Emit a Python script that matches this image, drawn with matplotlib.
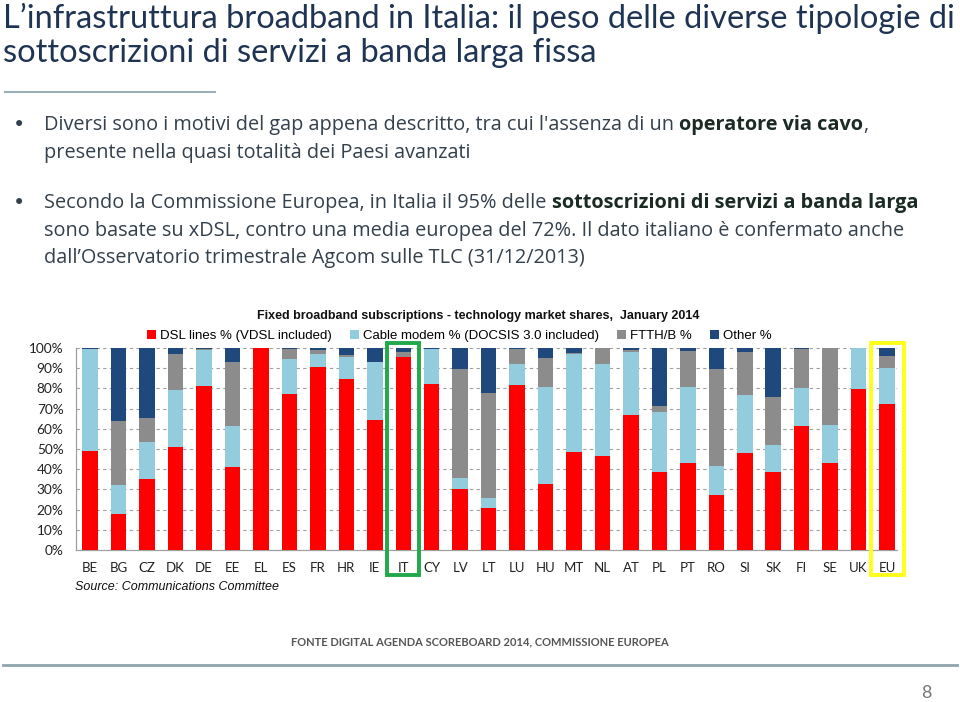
import matplotlib
matplotlib.use('Agg')
import matplotlib.pyplot as plt
from matplotlib.patches import Rectangle
from matplotlib.lines import Line2D
import numpy as np

# Data (percent of fixed broadband subscriptions)
countries = ['BE', 'BG', 'CZ', 'DK', 'DE', 'EE', 'EL', 'ES', 'FR', 'HR', 'IE', 'IT', 'CY', 'LV',
             'LT', 'LU', 'HU', 'MT', 'NL', 'AT', 'PL', 'PT', 'RO', 'SI', 'SK', 'FI', 'SE', 'UK', 'EU']
dsl = [49, 18, 35, 51, 81, 41, 100, 77, 90.5, 84.5, 64.5, 95.5, 82.3, 30,
       20.7, 81.8, 32.7, 48.4, 46.6, 67, 38.8, 43, 27.3, 48, 38.8, 61.2, 43.3, 79.7, 72.4]
cable = [50.5, 14, 18.5, 28, 18, 20.5, 0, 17.5, 6.5, 11, 28.5, 0, 17, 5.5,
         4.8, 10.4, 48, 48.8, 45.6, 31, 29.3, 37.7, 14.4, 28.6, 13.1, 19, 18.4, 20.3, 17.7]
ftth = [0, 32, 12, 18, 0.5, 31.5, 0, 5, 2, 1, 0.3, 2.3, 0, 54,
        52.2, 7.5, 14.3, 0.3, 7.8, 1, 3, 18, 47.9, 21.3, 23.8, 19.5, 38.3, 0, 6.1]
other = [0.5, 36, 34.5, 3, 0.5, 7, 0, 0.5, 1, 3.5, 6.7, 2.2, 0.7, 10.5,
         22.3, 0.3, 5, 2.5, 0, 1, 28.9, 1.3, 10.4, 2.1, 24.3, 0.3, 0, 0, 3.8]
series_names = ['DSL lines % (VDSL included)', 'Cable modem % (DOCSIS 3.0 included)',
                'FTTH/B %', 'Other %']
y_ticks = [0, 10, 20, 30, 40, 50, 60, 70, 80, 90, 100]

colors = ['#FF0000', '#93CDDD', '#8C8C8C', '#1F497D']
W, H = 960, 702


def fx(x):
    return x / W


def fy(y):
    return 1 - y / H


def fit_size(fig, runs, family, target, base=12):
    # font size at which a line (list of (text, bold)) gets the wanted pixel width
    renderer = fig.canvas.get_renderer()
    total = 0
    for txt, bold in runs:
        t = fig.text(0, 0, txt, fontsize=base, family=family, fontweight='bold' if bold else 'normal')
        total += t.get_window_extent(renderer=renderer).width
        t.remove()
    return base * target / total


def draw_runs(fig, x, y, runs, size, color_normal, color_bold, family):
    # draw a line of text made of normal / bold pieces, one after another
    renderer = fig.canvas.get_renderer()
    cur = x
    for txt, bold in runs:
        t = fig.text(fx(cur), fy(y), txt, fontsize=size, family=family,
                     fontweight='bold' if bold else 'normal',
                     color=color_bold if bold else color_normal, va='center', ha='left')
        bb = t.get_window_extent(renderer=renderer)
        cur += bb.width


fig = plt.figure(figsize=(9.6, 7.02), dpi=100)
fig.patch.set_facecolor('white')

title_font = ['Lato', 'DejaVu Sans']
body_font = ['Open Sans', 'DejaVu Sans']

# Slide title
title1 = "L\u2019infrastruttura broadband in Italia: il peso delle diverse tipologie di"
tsize = fit_size(fig, [(title1, False)], title_font, 950)
fig.text(fx(3), fy(18), title1, fontsize=tsize, family=title_font, color='#1F3352', va='center')
fig.text(fx(3), fy(53), "sottoscrizioni di servizi a banda larga fissa",
         fontsize=tsize, family=title_font, color='#1F3352', va='center')
fig.add_artist(Line2D([fx(5), fx(215)], [fy(92), fy(92)], color='#9AAFB8', lw=1.5))

# Bullets
txt_c = '#34404C'
bold_c = '#1B2B24'
line_a = [("Secondo la Commissione Europea, in Italia il 95% delle ", False),
          ("sottoscrizioni di servizi a banda larga", True)]
bsize = fit_size(fig, line_a, body_font, 873)
for by in (125, 203):
    fig.text(fx(19), fy(by), '\u2022', fontsize=15, color=txt_c, va='center', ha='center',
             family=['DejaVu Sans'])
draw_runs(fig, 44, 125, [("Diversi sono i motivi del gap appena descritto, tra cui l'assenza di un ", False),
                         ("operatore via cavo", True), (",", False)], bsize, txt_c, bold_c, body_font)
draw_runs(fig, 44, 153, [("presente nella quasi totalit\u00e0 dei Paesi avanzati", False)],
          bsize, txt_c, bold_c, body_font)
draw_runs(fig, 44, 203, line_a, bsize, txt_c, bold_c, body_font)
draw_runs(fig, 44, 231, [("sono basate su xDSL, contro una media europea del 72%. Il dato italiano \u00e8 confermato anche", False)],
          bsize, txt_c, bold_c, body_font)
draw_runs(fig, 44, 258, [("dall\u2019Osservatorio trimestrale Agcom sulle TLC (31/12/2013)", False)],
          bsize, txt_c, bold_c, body_font)

# Chart
ax = fig.add_axes([fx(76), fy(550), fx(897) - fx(76), (550 - 348) / H])
x = np.arange(len(countries))
bottom = np.zeros(len(countries))
for vals, c, name in zip([dsl, cable, ftth, other], colors, series_names):
    ax.bar(x, vals, bottom=bottom, width=0.545, color=c, label=name, zorder=3)
    bottom += np.array(vals)

ax.set_ylim(0, 100)
ax.set_xlim(-0.5, 28.35)
ax.set_yticks(y_ticks)
ax.set_yticklabels([f'{v}%' for v in y_ticks], fontsize=9.8, family=['Lato', 'DejaVu Sans'], color='#222222')
ax.set_xticks(x)
ax.set_xticklabels(countries, fontsize=9.5, family=['Lato', 'DejaVu Sans'], color='#222222')
ax.tick_params(axis='x', length=0, pad=9)
ax.tick_params(axis='y', length=0, pad=9)
for v in y_ticks[1:]:
    ax.axhline(v, color='#A0A0A0', lw=0.8, dashes=(3, 3), zorder=1)
for s in ['top', 'right']:
    ax.spines[s].set_visible(False)
for s in ['left', 'bottom']:
    ax.spines[s].set_color('#A0A0A0')
    ax.spines[s].set_linewidth(0.9)

ax.legend(ncol=4, loc='lower left', bbox_to_anchor=(fx(147), fy(342)), bbox_transform=fig.transFigure,
          frameon=False, prop={'family': 'Liberation Sans', 'size': 9.5}, handlelength=0.7,
          handleheight=0.7, handletextpad=0.3, columnspacing=1.35, borderpad=0, borderaxespad=0)

fig.text(fx(478), fy(316), 'Fixed broadband subscriptions - technology market shares,  January 2014',
         fontsize=9, fontweight='bold', family='Liberation Sans', ha='center', va='center', color='#111111')
fig.text(fx(75), fy(587), 'Source: Communications Committee', fontsize=9, style='italic',
         family='Liberation Sans', va='center', color='#111111')

# Highlight boxes around IT and EU
ax.add_patch(Rectangle((11 - 0.56, -12.3), 1.12, 114.7, fill=False, edgecolor='#20A84A',
                       lw=2.8, clip_on=False, zorder=5))
ax.add_patch(Rectangle((28 - 0.58, -12.3), 1.16, 114.7, fill=False, edgecolor='#FFFF1A',
                       lw=2.8, clip_on=False, zorder=5))

# Footer
footer = 'FONTE DIGITAL AGENDA SCOREBOARD 2014, COMMISSIONE EUROPEA'
fsize = fit_size(fig, [(footer, True)], title_font, 380)
fig.text(fx(480), fy(642), footer, fontsize=fsize,
         family=title_font, fontweight='bold', color='#555555', ha='center', va='center')
fig.add_artist(Line2D([fx(3), fx(957)], [fy(665), fy(665)], color='#8FA5AE', lw=2))
fig.text(fx(926), fy(693), '8', fontsize=13, family=title_font, color='#777777', ha='center', va='center')

plt.savefig('out.png', dpi=100)
plt.close()
